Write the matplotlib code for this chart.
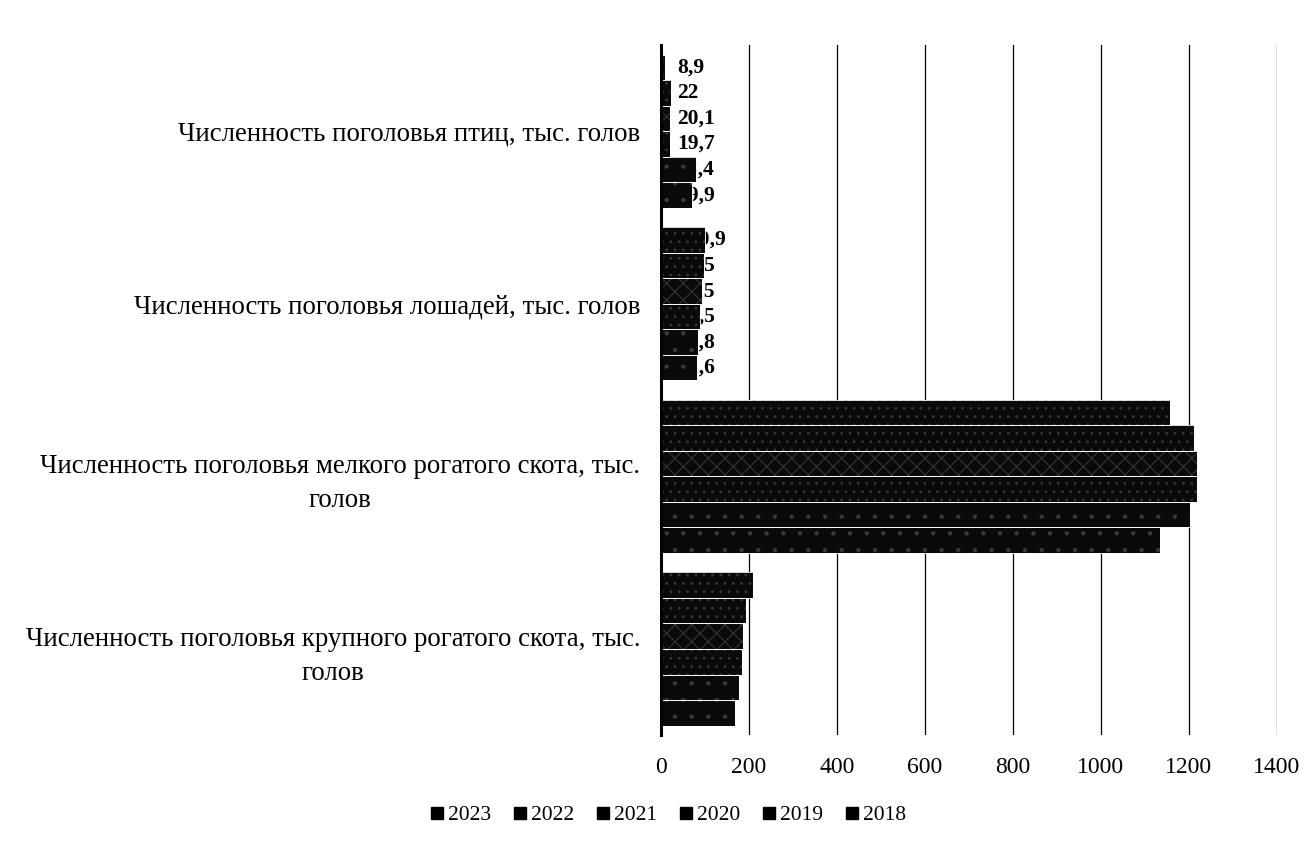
import matplotlib
matplotlib.use("Agg")
import matplotlib.pyplot as plt
import numpy as np
from matplotlib.lines import Line2D

plt.rcParams['font.family'] = ['Liberation Serif', 'DejaVu Serif']
plt.rcParams['hatch.linewidth'] = 0.7

categories = [
    "Численность поголовья крупного рогатого скота, тыс.\nголов",
    "Численность поголовья мелкого рогатого скота, тыс.\nголов",
    "Численность поголовья лошадей, тыс. голов",
    "Численность поголовья птиц, тыс. голов",
]
years = ["2023", "2022", "2021", "2020", "2019", "2018"]

# values per year, in category order (крупный, мелкий, лошади, птицы)
v2023 = [210, 1157, 100.9, 8.9]
v2022 = [192, 1212, 98.5, 22]
v2021 = [187, 1219, 92.5, 20.1]
v2020 = [185, 1219, 88.5, 19.7]
v2019 = [176, 1202, 84.8, 78.4]
v2018 = [167, 1134, 81.6, 69.9]
series = [v2023, v2022, v2021, v2020, v2019, v2018]

# which categories carry data labels
labelled = [False, False, True, True]

hatches = ['..', '..', 'xx', '..', '.', '.']

fig = plt.figure(figsize=(13.04, 8.5), dpi=100)
ax = fig.add_axes([0.507, 0.135, 0.472, 0.812])

h = 0.148
y = np.arange(len(categories))
for i, (yr, vals) in enumerate(zip(years, series)):
    pos = y + (2.5 - i) * h
    ax.barh(pos, vals, height=h, color='#0a0a0a', edgecolor='#3a3a3a',
            linewidth=0, hatch=hatches[i], zorder=3)
    ax.barh(pos, vals, height=h, fill=False, edgecolor='white',
            linewidth=0.6, zorder=3.5)
    for p, v, lab in zip(pos, vals, labelled):
        if lab:
            txt = ("%g" % v).replace('.', ',')
            ax.text(36, p, txt, ha='left', va='center', fontsize=15.5,
                    fontweight='bold', color='black', zorder=2.5)

ax.set_xlim(0, 1400)
ax.set_ylim(-0.5, 3.5)
ax.set_xticks(np.arange(0, 1401, 200))
ax.tick_params(axis='x', length=0, labelsize=17, pad=16)
ax.set_yticks(y)
ax.set_yticklabels(categories, fontsize=19.4, multialignment='center',
                   linespacing=1.45)
ax.tick_params(axis='y', length=0, pad=15)
ax.grid(axis='x', color='black', linewidth=0.9, zorder=0)
for s in ['top', 'right', 'bottom']:
    ax.spines[s].set_visible(False)
ax.spines['left'].set_linewidth(2.2)
ax.spines['left'].set_zorder(5)

handles = [Line2D([0], [0], marker='s', color='none', markerfacecolor='black',
                  markeredgecolor='black', markersize=9) for _ in years]
fig.legend(handles, years, loc='center', bbox_to_anchor=(0.511, 0.041), ncol=6,
           frameon=False, fontsize=15.5, handletextpad=0.0, columnspacing=0.85,
           handlelength=1.0)

fig.savefig("out.png", dpi=100)
